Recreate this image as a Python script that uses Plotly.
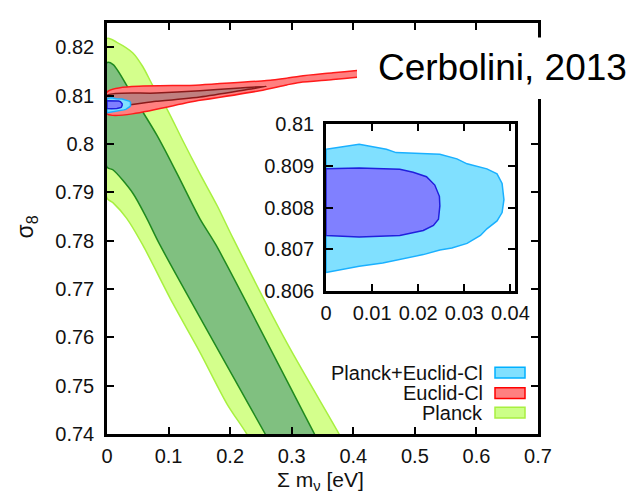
import plotly.graph_objects as go

# ---------------- data: confidence contours in (sum m_nu, sigma_8) ----------------
# Planck, 95% region: upper and lower edges of the band
planck95_upper_x = [0.0, 0.016, 0.042, 0.058, 0.075, 0.097, 0.123, 0.151, 0.179, 0.205, 0.292, 0.377, 0.398]
planck95_upper_y = [0.8218, 0.8210, 0.8188, 0.8160, 0.8119, 0.8073, 0.8007, 0.7938, 0.7872, 0.7804, 0.7589, 0.7400, 0.7350]
planck95_lower_x = [0.0, 0.010, 0.032, 0.058, 0.107, 0.151, 0.195, 0.227, 0.248]
planck95_lower_y = [0.7888, 0.7878, 0.7846, 0.7791, 0.7670, 0.7569, 0.7462, 0.7400, 0.7350]

# Planck, 68% region
planck68_upper_x = [0.0, 0.010, 0.042, 0.081, 0.114, 0.151, 0.177, 0.337, 0.358]
planck68_upper_y = [0.8168, 0.8164, 0.8099, 0.8018, 0.7938, 0.7845, 0.7791, 0.7400, 0.7350]
planck68_lower_x = [0.0, 0.010, 0.042, 0.065, 0.086, 0.257, 0.279]
planck68_lower_y = [0.7952, 0.7946, 0.7898, 0.7845, 0.7791, 0.7400, 0.7350]

# Euclid-Cl, 95% region
euclid95_upper_x = [0.0, 0.151, 0.259, 0.292, 0.313, 0.367, 0.406, 0.45]
euclid95_upper_y = [0.8107, 0.8122, 0.8131, 0.8136, 0.8140, 0.8147, 0.8152, 0.8158]
euclid95_lower_x = [0.0, 0.151, 0.248, 0.292, 0.313, 0.367, 0.406, 0.45]
euclid95_lower_y = [0.8062, 0.8090, 0.8110, 0.8122, 0.8127, 0.8133, 0.8138, 0.8144]

# Euclid-Cl, 68% region
euclid68_upper_x = [0.0, 0.08, 0.151, 0.21, 0.259]
euclid68_upper_y = [0.8100, 0.8105, 0.8110, 0.8115, 0.8119]
euclid68_lower_x = [0.0, 0.08, 0.151, 0.23]
euclid68_lower_y = [0.8080, 0.8088, 0.8097, 0.8113]

# Planck+Euclid-Cl, 95% region (closed outline)
joint95_x = [0.0, 0.0072, 0.0131, 0.0152, 0.0247, 0.0284, 0.0306, 0.0349, 0.0371, 0.0382,
             0.0386, 0.0382, 0.0371, 0.0349, 0.0335, 0.0306, 0.0273, 0.0247, 0.0211, 0.016,
             0.0123, 0.0072, 0.0036, 0.0]
joint95_y = [0.80940, 0.80952, 0.80940, 0.80932, 0.80928, 0.80917, 0.80905, 0.80893, 0.80881, 0.80858,
             0.80819, 0.80788, 0.80768, 0.80749, 0.80733, 0.80714, 0.80703, 0.80698, 0.80687, 0.80675,
             0.80667, 0.80659, 0.80651, 0.80644]

# Planck+Euclid-Cl, 68% region (closed outline)
joint68_x = [0.0, 0.0072, 0.016, 0.0189, 0.0218, 0.0236, 0.0246, 0.0247, 0.0244, 0.0233,
             0.0211, 0.016, 0.0072, 0.0]
joint68_y = [0.80893, 0.80895, 0.80892, 0.80885, 0.80874, 0.80854, 0.80827, 0.80804, 0.80772, 0.80757,
             0.80745, 0.80733, 0.80729, 0.80733]

legend_labels = ["Planck+Euclid-Cl", "Euclid-Cl", "Planck"]

# ---------------- styling ----------------
FONT = "Liberation Sans, Arial, Helvetica, sans-serif"
INK = "#111111"

W, H = 635, 494
L, R, T, B = 107, 97, 12, 60
PW, PH = W - L - R, H - T - B


def px(xp):
    return (xp - L) / PW


def py(yp):
    return (H - B - yp) / PH


STYLE = {
    "planck95": dict(fill="#d4ff8c", line="#a8f040"),
    "planck68": dict(fill="#80c080", line="#1f8a1f"),
    "euclid95": dict(fill="#ff8080", line="#ff1a1a"),
    "euclid68": dict(fill="#c08080", line="#8a1a1a"),
    "joint95": dict(fill="#80e0ff", line="#1ab0ff"),
    "joint68": dict(fill="#8080ff", line="#2020dd"),
}


def band(ux, uy, lx, ly):
    return list(ux) + list(reversed(lx)), list(uy) + list(reversed(ly))


def region(x, y, key, xa="x", ya="y", smooth=False):
    st = STYLE[key]
    line = dict(color=st["line"], width=1.5)
    if smooth:
        line.update(shape="spline", smoothing=0.8)
    return go.Scatter(x=x + [x[0]], y=y + [y[0]], mode="lines", fill="toself",
                      fillcolor=st["fill"], line=line,
                      xaxis=xa, yaxis=ya, hoverinfo="skip", showlegend=False)


fig = go.Figure()

p95 = band(planck95_upper_x, planck95_upper_y, planck95_lower_x, planck95_lower_y)
p68 = band(planck68_upper_x, planck68_upper_y, planck68_lower_x, planck68_lower_y)
e95 = band(euclid95_upper_x, euclid95_upper_y, euclid95_lower_x, euclid95_lower_y)
e68 = band(euclid68_upper_x, euclid68_upper_y, euclid68_lower_x, euclid68_lower_y)

fig.add_trace(region(*p95, "planck95", smooth=True))
fig.add_trace(region(*p68, "planck68", smooth=True))
fig.add_trace(region(*e95, "euclid95", smooth=True))
fig.add_trace(region(*e68, "euclid68", smooth=True))
fig.add_trace(region(joint95_x, joint95_y, "joint95"))
fig.add_trace(region(joint68_x, joint68_y, "joint68"))

# zoomed panel
fig.add_trace(region(joint95_x, joint95_y, "joint95", "x2", "y2"))
fig.add_trace(region(joint68_x, joint68_y, "joint68", "x2", "y2"))

axis_common = dict(
    showgrid=False, zeroline=False, showline=True, linecolor="black", linewidth=2.5,
    mirror="allticks", ticks="inside", ticklen=7, tickwidth=2, tickcolor="black",
    tickfont=dict(family=FONT, size=20, color=INK),
)

fig.update_layout(
    width=W, height=H,
    margin=dict(l=L, r=R, t=T, b=B),
    paper_bgcolor="white", plot_bgcolor="white",
    showlegend=False,
    xaxis=dict(range=[0, 0.7], dtick=0.1, tick0=0, domain=[0, 1], anchor="y",
               ticklabelstandoff=2, **axis_common),
    yaxis=dict(range=[0.74, 0.825], dtick=0.01, tick0=0.74, domain=[0, 1], anchor="x",
               ticklabelstandoff=6, **axis_common),
    xaxis2=dict(range=[0, 0.041], dtick=0.01, tick0=0, anchor="y2",
                domain=[px(326), px(515)], ticklabelstandoff=2, **axis_common),
    yaxis2=dict(range=[0.806, 0.810], dtick=0.001, tick0=0.806, anchor="x2",
                domain=[py(287), py(116)], ticklabelstandoff=5, **axis_common),
)

# white box with the attribution
fig.add_shape(type="rect", xref="paper", yref="paper",
              x0=px(357), x1=px(W + 5), y0=py(90), y1=py(27),
              fillcolor="white", line=dict(width=0), layer="above")
fig.add_annotation(text="Cerbolini, 2013", xref="paper", yref="paper",
                   x=px(502), y=py(58), xanchor="center", yanchor="middle",
                   showarrow=False, font=dict(family=FONT, size=37, color="black"))

# axis titles
fig.add_annotation(text="Σ m<sub>ν</sub> [eV]", xref="paper", yref="paper",
                   x=px(320), y=py(482), xanchor="center", yanchor="middle",
                   showarrow=False, font=dict(family=FONT, size=21, color=INK))
fig.add_annotation(text="σ<sub>8</sub>", xref="paper", yref="paper",
                   x=px(27), y=py(222), xanchor="center", yanchor="middle", textangle=-90,
                   showarrow=False, font=dict(family=FONT, size=23, color=INK))

# key
legend_rows_y = [371, 392, 412]
legend_keys = ["joint95", "euclid95", "planck95"]
legend_fill = {"joint95": ("#80e0ff", "#00b0ff"),
               "euclid95": ("#ff8080", "#ff0000"),
               "planck95": ("#ccff88", "#a8f040")}
for label, key, yrow in zip(legend_labels, legend_keys, legend_rows_y):
    fill, edge = legend_fill[key]
    fig.add_annotation(text=label, xref="paper", yref="paper", x=px(485), y=py(yrow),
                       xanchor="right", yanchor="middle", showarrow=False,
                       font=dict(family=FONT, size=20, color=INK))
    fig.add_shape(type="rect", xref="paper", yref="paper",
                  x0=px(495), x1=px(525), y0=py(yrow + 5.5), y1=py(yrow - 5.5),
                  fillcolor=fill, line=dict(color=edge, width=1.5), layer="above")

fig.write_html("out.html")
